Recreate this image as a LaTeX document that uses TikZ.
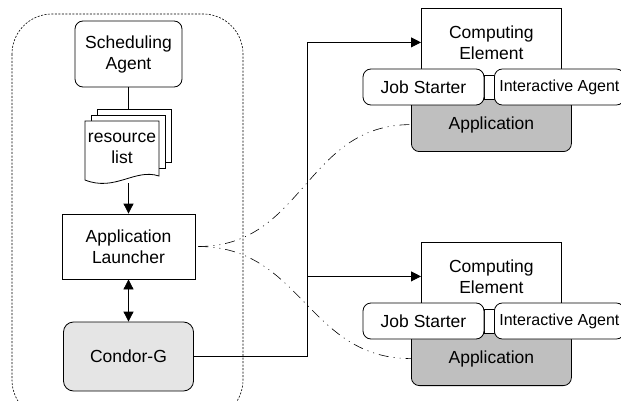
\documentclass[tikz,border=0pt]{standalone}
\usepackage{fontspec}
\setmainfont{Liberation Sans}
\usetikzlibrary{positioning,arrows.meta}

\begin{document}
\begin{tikzpicture}[
  x=1pt, y=-1pt,
  font=\fontsize{17.5}{21}\selectfont,
  box/.style={draw, align=center, inner sep=0pt, fill=white, line width=0.8pt},
  rbox/.style={box, rounded corners=8pt},
  sheet/.style={draw, fill=white, minimum width=74pt, minimum height=53pt, inner sep=0pt, line width=0.8pt},
  arr/.style={line width=0.8pt, -{Triangle[length=10pt,width=10pt]}},
  dbl/.style={line width=0.8pt, {Triangle[length=10pt,width=10pt]}-{Triangle[length=10pt,width=10pt]}},
  link/.style={line width=0.6pt, dash pattern=on 10pt off 5pt on 1pt off 5pt on 1pt off 5pt}]
\useasboundingbox (0,0) rectangle (621,401);
\clip (0,0) rectangle (621,401);
% submit side
\draw[line width=0.6pt, dash pattern=on 2pt off 1.5pt, rounded corners=40pt] (12,14) rectangle (243,420);
\node[rbox, minimum width=107pt, minimum height=66pt] (agent) at (128.5,54) {Scheduling\\Agent};
\node[sheet] (sheet3) at (134,135.5) {};
\node[sheet] (sheet2) at (128,141.5) {};
\draw[fill=white, line width=0.8pt] (85,121) -- (159,121) -- (159,176) .. controls (135,168) and (115,192) .. (85,180) -- cycle;
\node[align=center] (reslist) at (122,148) {resource\\list};
\coordinate (listbot) at (128.5,183);
\node[box, minimum width=133pt, minimum height=65pt] (launcher) at (128.5,246.5) {Application\\Launcher};
\node[rbox, fill=black!10, minimum width=130pt, minimum height=69pt, rounded corners=10pt] (condor) at (128.5,356.5) {Condor-G};
\draw[line width=0.8pt] (agent.south) -- (agent.south |- sheet3.north);
\draw[arr] (listbot) -- (launcher.north);
\draw[dbl] (launcher) -- (condor);
% first site
\node[box, minimum width=140pt, minimum height=68pt, anchor=north west] (ce1) at (421,8) {Computing\\Element};
\node[rbox, fill=black!25, minimum width=160pt, minimum height=54pt, anchor=south west] (app1) at (411,152) {Application};
\node[box, minimum width=10pt, minimum height=24pt] (glue1) at (489,87) {};
\node[rbox, minimum width=121pt, minimum height=36pt] (js1) at (423.5,87) {Job Starter};
\node[rbox, minimum width=130pt, minimum height=36pt, anchor=west, font=\fontsize{16}{20}\selectfont] (ia1) at (494,87) {Interactive Agent};
% second site
\node[box, minimum width=140pt, minimum height=68pt, anchor=north west] (ce2) at (421,242) {Computing\\Element};
\node[rbox, fill=black!25, minimum width=160pt, minimum height=54pt, anchor=south west] (app2) at (411,386) {Application};
\node[box, minimum width=10pt, minimum height=24pt] (glue2) at (489,321) {};
\node[rbox, minimum width=121pt, minimum height=36pt] (js2) at (423.5,321) {Job Starter};
\node[rbox, minimum width=130pt, minimum height=36pt, anchor=west, font=\fontsize{16}{20}\selectfont] (ia2) at (494,321) {Interactive Agent};
% connections
\coordinate (bus) at (307,0);
\draw[arr] (condor.east) -| (bus |- ce1.west) -- (ce1.west);
\draw[arr] (bus |- ce2.west) -- (ce2.west);
\draw[link] ([xshift=3pt]launcher.east) to[out=0,in=180,looseness=1.1] (app1.west);
\draw[link] ([xshift=3pt]launcher.east) to[out=0,in=180,looseness=1.1] (app2.west);
\end{tikzpicture}
\end{document}
